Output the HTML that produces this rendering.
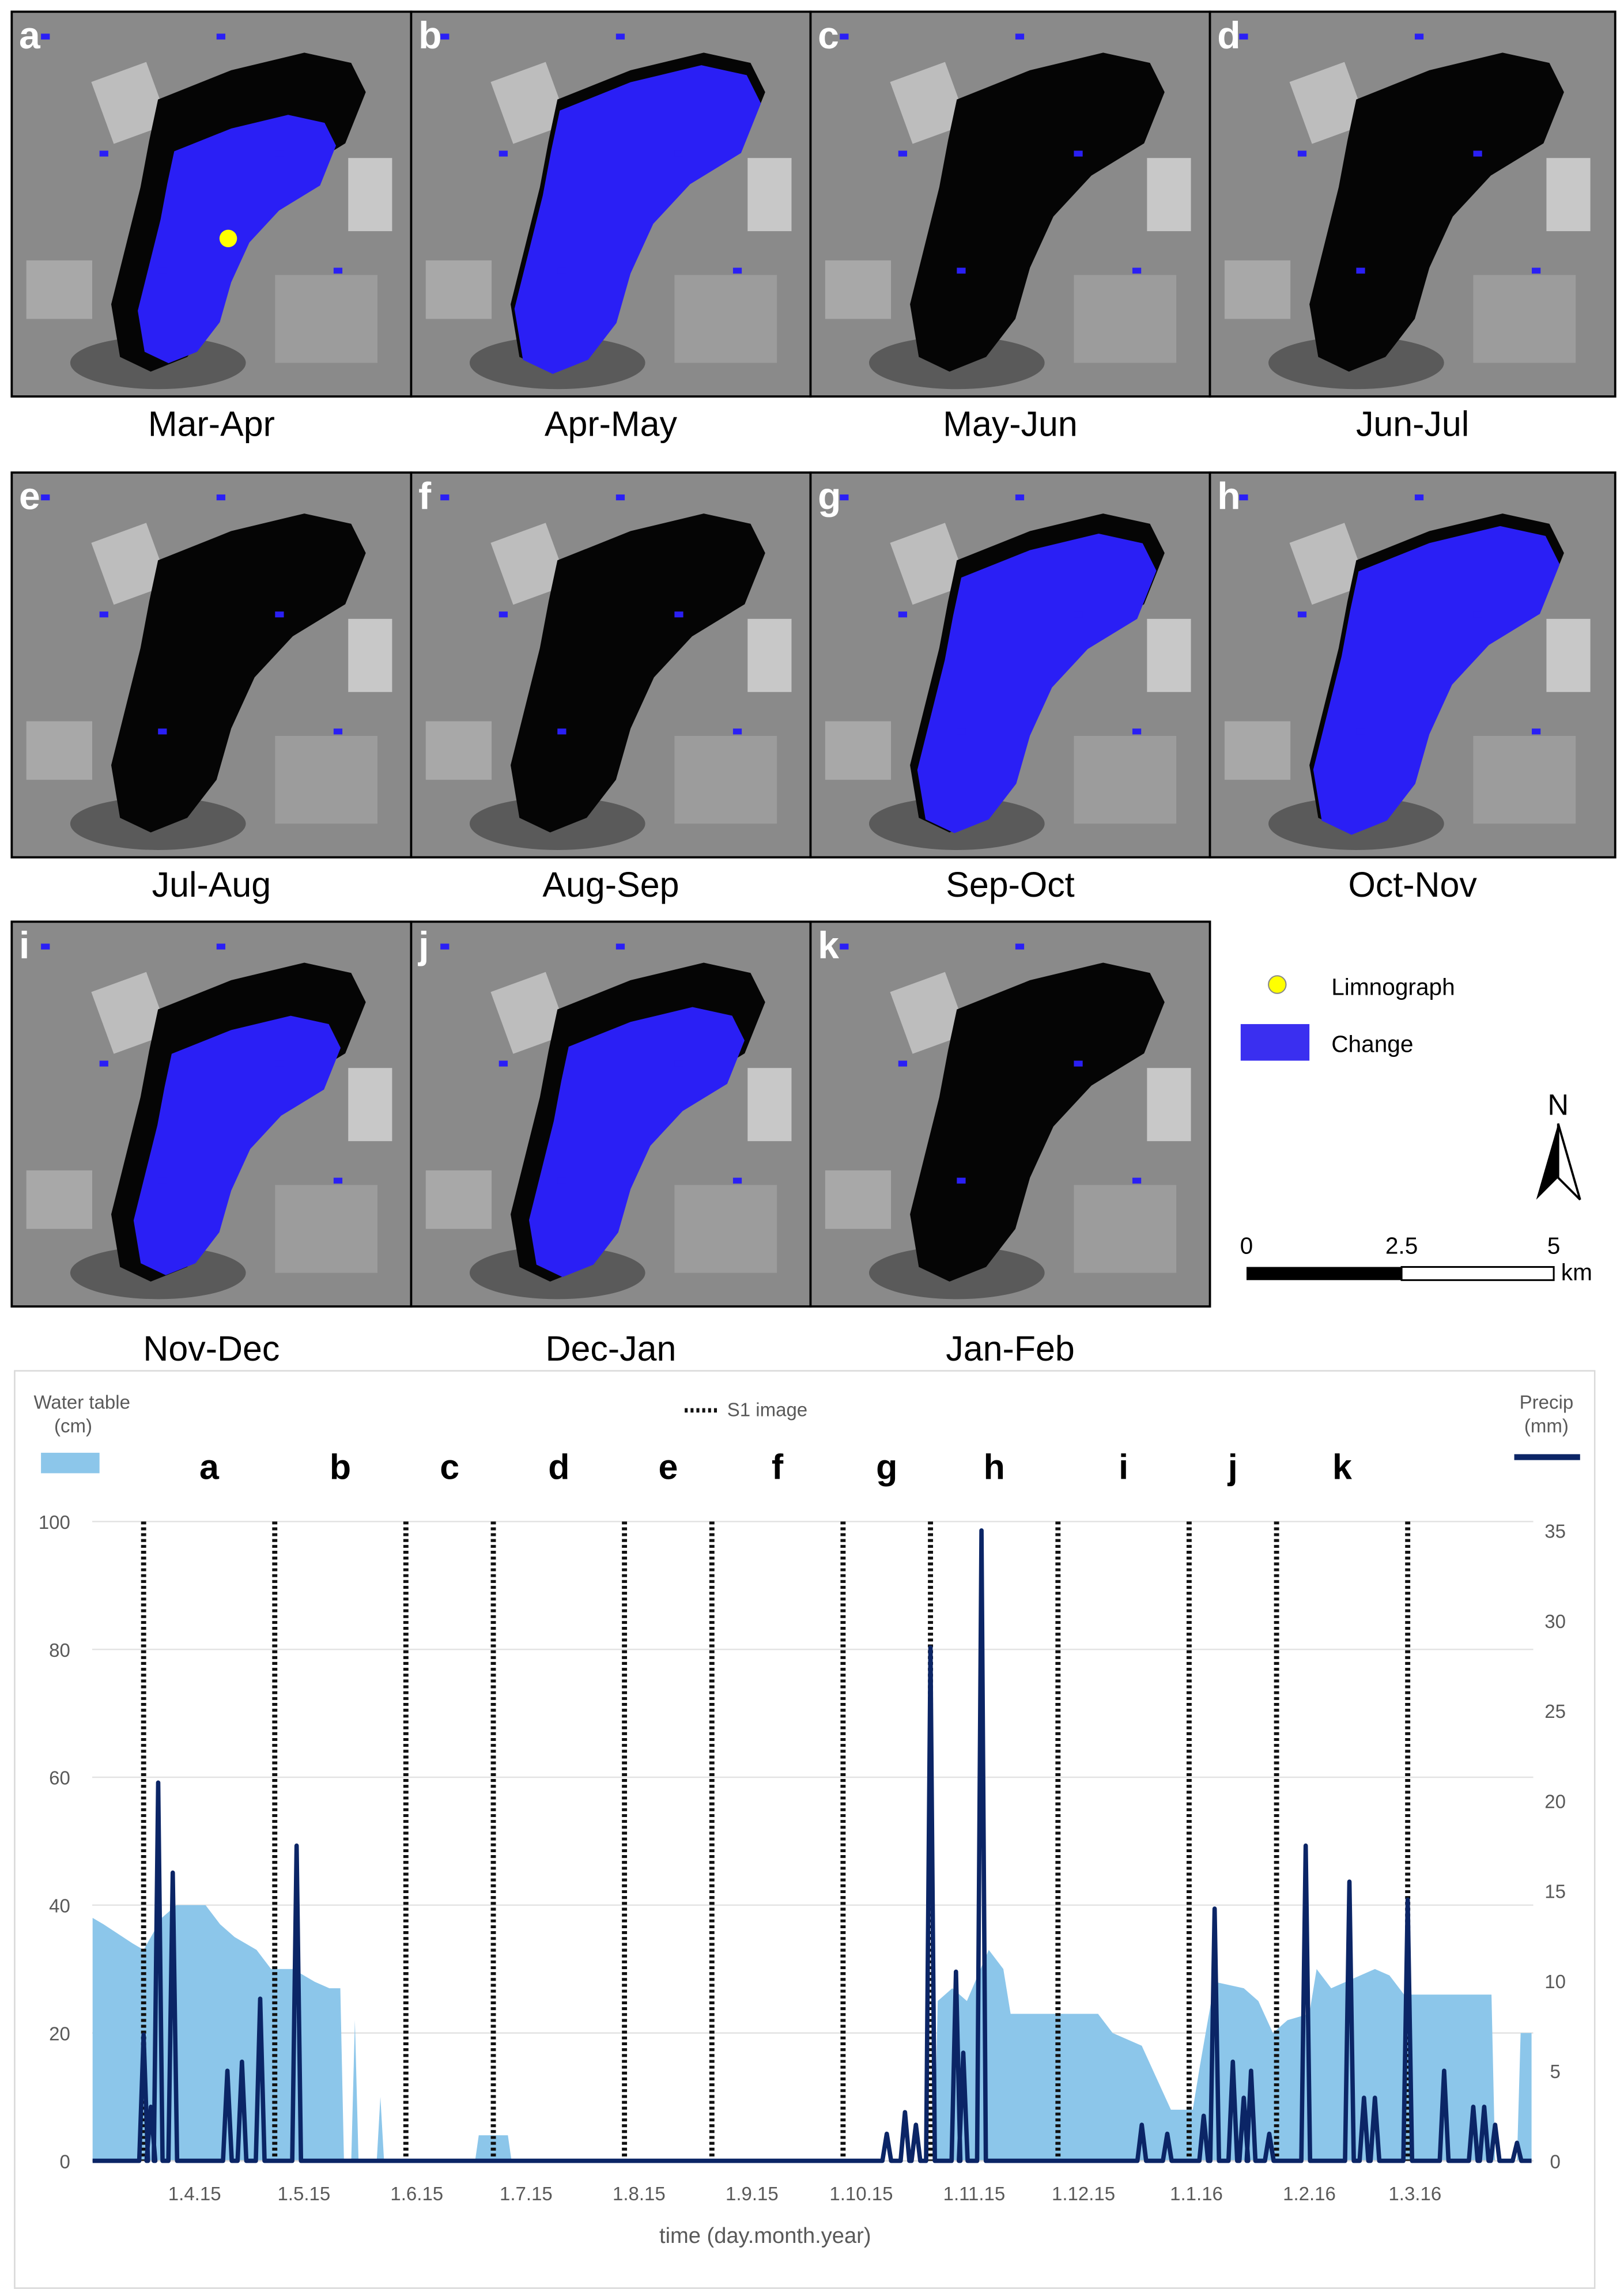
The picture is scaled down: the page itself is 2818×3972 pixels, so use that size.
<!DOCTYPE html>
<html><head><meta charset="utf-8"><style>
html,body{margin:0;padding:0;background:#fff;}
svg{display:block;font-family:"Liberation Sans",sans-serif;}
</style></head><body>
<svg id="root" width="2818" height="3972" viewBox="0 0 1110 1564.6" xmlns="http://www.w3.org/2000/svg">
<g id="maps"></g>
<g id="legend">
  <circle cx="873" cy="673" r="6" fill="#ffff00" stroke="#888" stroke-width="0.8"/>
  <text x="910" y="680" font-size="16">Limnograph</text>
  <rect x="848" y="700" width="47" height="25" fill="#3a2ff0"/>
  <text x="910" y="719" font-size="16">Change</text>
  <text x="1065" y="762" font-size="20" text-anchor="middle">N</text>
  <path d="M1065 768 L1050 820 L1065 805 Z" fill="#000"/>
  <path d="M1065 768 L1080 820 L1065 805 Z" fill="#fff" stroke="#000" stroke-width="1.5"/>
  <text x="852" y="857" font-size="16" text-anchor="middle">0</text>
  <text x="958" y="857" font-size="16" text-anchor="middle">2.5</text>
  <text x="1062" y="857" font-size="16" text-anchor="middle">5</text>
  <rect x="852" y="866" width="106" height="9" fill="#000"/>
  <rect x="958" y="866" width="104" height="9" fill="#fff" stroke="#000" stroke-width="1.2"/>
  <text x="1067" y="875" font-size="16">km</text>
</g>
<g id="chart"></g>
</svg>
<script>
// ---- chart data ----
const s1Days = [17,53,89,113,149,173,209,233,268,304,328,364];
const panelLetters = ["a","b","c","d","e","f","g","h","i","j","k"];
const waterDays = [3,6,14,17,22,26,34,38,42,48,52,58,64,68,71,72,74,75,76,81,82,83,108,109,117,118,234,235,239,243,249,253,255,279,283,291,295,299,305,307,311,319,323,327,331,337,339,343,355,359,363,387,388,394,395,398];
const waterVals = [38,37,34,33,38,40,40,37,35,33,30,30,28,27,27,0,0,22,0,0,10,0,0,4,4,0,0,25,27,25,33,30,23,23,20,18,13,8,8,15,28,27,25,20,22,23,30,27,30,29,26,26,0,0,20,20];
const precipDays = [17,19,21,25,40,44,49,59,221,226,229,233,240,242,247,291,298,308,311,316,319,321,326,336,348,352,355,364,374,382,385,388,394];
const precipVals = [7,3,21,16,5,5.5,9,17.5,1.5,2.7,2,28.5,10.5,6,35,2,1.5,2.5,14,5.5,3.5,5,1.5,17.5,15.5,3.5,3.5,14.5,5,3,3,2,1];
const leftTicks = [0,20,40,60,80,100];
const rightTicks = [0,5,10,15,20,25,30,35];
const xTickDays = [31,61,92,122,153,184,214,245,275,306,337,366];
const xTickLabels = ["1.4.15","1.5.15","1.6.15","1.7.15","1.8.15","1.9.15","1.10.15","1.11.15","1.12.15","1.1.16","1.2.16","1.3.16"];
const mapLabels = ["Mar-Apr","Apr-May","May-Jun","Jun-Jul","Jul-Aug","Aug-Sep","Sep-Oct","Oct-Nov","Nov-Dec","Dec-Jan","Jan-Feb"];
const changeAmount = [0.55,0.85,0.08,0.05,0.04,0.06,0.8,0.85,0.6,0.65,0.08];

const NS="http://www.w3.org/2000/svg";
function mk(tag,attrs,parent){const e=document.createElementNS(NS,tag);for(const k in attrs)e.setAttribute(k,attrs[k]);parent.appendChild(e);return e;}

// axis functions
const xS = d => 133 + (d-31)*2.49;
const yL = v => 1477 - v*4.37;
const yR = v => 1477 - v*12.31;

// ---- maps ----
const maps=document.getElementById('maps');
const panelPos=[[8,8],[281,8],[554,8],[827,8],[8,323],[281,323],[554,323],[827,323],[8,630],[281,630],[554,630]];
const lake=[[100,60],[150,40],[200,28],[232,35],[242,55],[228,90],[192,112],[166,140],[150,175],[140,210],[120,236],[95,246],[74,236],[68,200],[78,160],[88,120],[94,88]];
panelPos.forEach((p,i)=>{
  const w = (i===3||i===7)?277:273, h=263;
  const g=mk('g',{transform:`translate(${p[0]},${p[1]})`},maps);
  
  
  const bg=mk('rect',{x:0,y:0,width:w,height:h,fill:'#8a8a8a',stroke:'#000','stroke-width':1.5},g);
  
  
  mk('rect',{x:60,y:40,width:40,height:45,fill:'#bdbdbd',transform:'rotate(-20 80 60)'},g);
  mk('rect',{x:230,y:100,width:30,height:50,fill:'#c8c8c8'},g);
  mk('rect',{x:10,y:170,width:45,height:40,fill:'#a8a8a8'},g);
  mk('rect',{x:180,y:180,width:70,height:60,fill:'#9c9c9c'},g);
  mk('ellipse',{cx:100,cy:240,rx:60,ry:18,fill:'#5a5a5a'},g);
  const lk=mk('polygon',{points:lake.map(q=>q.join(',')).join(' '),fill:'#050505'},g);
  
  
  const a=changeAmount[i];
  if(a>0.2){
    const s=Math.sqrt(a), cx=150, cy=150;
    const bl=mk('polygon',{points:lake.map(q=>[cx+(q[0]-cx)*s*1.05,cy+(q[1]-cy)*s*1.05+ (1-s)*60].join(',')).join(' '),fill:'#2a1ff5'},g);
    
    
  }
  for(let k=0;k<6;k++){mk('rect',{x:20+k*40,y:15+(k%3)*80,width:6,height:4,fill:'#2a1ff5'},g);}
  const lt=mk('text',{x:5,y:25,'font-size':26,'font-weight':'bold',fill:'#fff'},g);
  lt.textContent=panelLetters[i];
  
  
  if(i===0){const c=mk('circle',{cx:148,cy:155,r:6,fill:'#ffff00'},g);}
  const lab=mk('text',{x:p[0]+w/2,y:p[1]+h+(i>=8?37:27),'font-size':24,'text-anchor':'middle'},maps);
  lab.textContent=mapLabels[i];
  
  
});

// ---- chart ----
const ch=document.getElementById('chart');
const fr=mk('rect',{x:10,y:937,width:1080,height:627,fill:'#fff',stroke:'#d9d9d9','stroke-width':1},ch);

leftTicks.forEach(v=>{
  if(v>0){const gl=mk('line',{x1:63,x2:1048,y1:yL(v),y2:yL(v),stroke:'#e3e3e3','stroke-width':1},ch);}
  const t=mk('text',{x:48,y:yL(v)+5,'font-size':13,fill:'#595959','text-anchor':'end'},ch);t.textContent=v;
  
});
rightTicks.forEach(v=>{
  const t=mk('text',{x:1063,y:yR(v)+5,'font-size':13,fill:'#595959','text-anchor':'middle'},ch);t.textContent=v;
  
});
// water area
let wd='M'+xS(waterDays[0])+','+yL(0);
waterDays.forEach((d,i)=>{wd+=' L'+xS(d)+','+yL(waterVals[i]);});
wd+=' L'+xS(waterDays[waterDays.length-1])+','+yL(0)+' Z';
const wa=mk('path',{d:wd,fill:'#8cc6ea'},ch);

const base=mk('line',{x1:63,x2:1048,y1:yL(0),y2:yL(0),stroke:'#d9d9d9'},ch);

// S1 lines
s1Days.forEach(d=>{
  const l=mk('line',{x1:xS(d),x2:xS(d),y1:1040,y2:1477,stroke:'#111','stroke-width':3.5,'stroke-dasharray':'2 2'},ch);
  
});
// letters between lines
panelLetters.forEach((L,i)=>{
  const t=mk('text',{x:(xS(s1Days[i])+xS(s1Days[i+1]))/2,y:1011,'font-size':24,'font-weight':'bold','text-anchor':'middle'},ch);t.textContent=L;
  
});
// precip line
let pts=[[3,0]];
precipDays.forEach((d,i)=>{pts.push([d-1.2,0],[d,precipVals[i]],[d+1.2,0]);});
pts.push([398,0]);
const pl=mk('path',{d:'M'+pts.map(p=>xS(p[0])+','+yR(p[1])).join(' L'),fill:'none',stroke:'#0b2566','stroke-width':3,'stroke-linejoin':'round'},ch);

// x ticks
xTickDays.forEach((d,i)=>{
  const t=mk('text',{x:xS(d),y:1504,'font-size':13,fill:'#595959','text-anchor':'middle'},ch);t.textContent=xTickLabels[i];
  
});
const xt=mk('text',{x:523,y:1533,'font-size':15,fill:'#595959','text-anchor':'middle'},ch);xt.textContent='time (day.month.year)';

// legends
[['Water table',56,963],['(cm)',50,979]].forEach(a=>{const t=mk('text',{x:a[1],y:a[2],'font-size':13,fill:'#595959','text-anchor':'middle'},ch);t.textContent=a[0];});
[['Precip',1057,963],['(mm)',1057,979]].forEach(a=>{const t=mk('text',{x:a[1],y:a[2],'font-size':13,fill:'#595959','text-anchor':'middle'},ch);t.textContent=a[0];});
const sw=mk('rect',{x:28,y:993,width:40,height:14,fill:'#8cc6ea'},ch);
const pw=mk('line',{x1:1035,x2:1080,y1:996,y2:996,stroke:'#0b2566','stroke-width':4},ch);
const sl=mk('line',{x1:468,x2:492,y1:964,y2:964,stroke:'#111','stroke-width':3,'stroke-dasharray':'2 2'},ch);
const st=mk('text',{x:497,y:968,'font-size':13,fill:'#595959'},ch);st.textContent='S1 image';
</script>
</body></html>
